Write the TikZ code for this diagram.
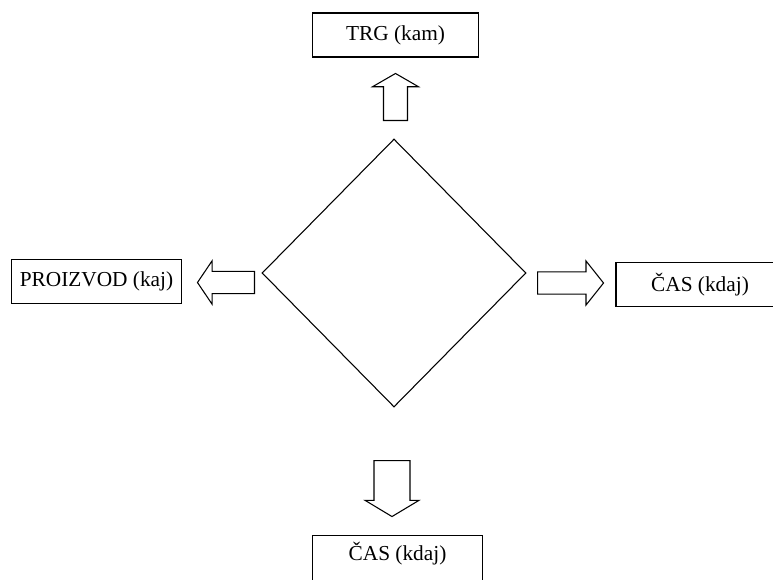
\documentclass[tikz,border=0pt]{standalone}
\usepackage{fontspec}
\setmainfont{Liberation Serif}
\usetikzlibrary{shapes.geometric, shapes.arrows}
\tikzstyle{box} = [rectangle, draw=black, line width=0.8pt, minimum width=124pt, minimum height=33pt, inner sep=2pt, text centered, font=\fontsize{16}{19}\selectfont]
\tikzstyle{core} = [diamond, draw=black, line width=0.8pt, minimum width=198pt, minimum height=201pt, inner sep=0pt]
\tikzstyle{bigarrow} = [single arrow, draw=black, line width=0.8pt, inner xsep=0pt, anchor=tail]

\begin{document}
\begin{tikzpicture}[x=0.75pt, y=-0.75pt]
    \useasboundingbox (0,0) rectangle (773,579);

    \node[core] (mix) at (394,273) {};

    \node[box] (kam) at (395.5,35) {TRG (kam)};
    \node[box, minimum width=127pt] (kaj) at (96.5,281.5) {PROIZVOD (kaj)};
    \node[box, minimum width=126pt] (kdaj) at (700,284.5) {ČAS (kdaj)};
    \node[box, minimum width=127pt, minimum height=38pt, text depth=15pt] (kdajb) at (397.5,561) {ČAS (kdaj)};

    % block arrows
    \node[bigarrow, rotate=90, minimum height=35.25pt, inner ysep=8.6pt, single arrow head extend=8.25pt, single arrow tip angle=120] (toup) at (395.5,121) {};
    \node[bigarrow, rotate=180, minimum height=42.75pt, inner ysep=7.9pt, single arrow head extend=7.9pt, single arrow tip angle=112] (toleft) at (255,282.5) {};
    \node[bigarrow, minimum height=49.5pt, inner ysep=7.9pt, single arrow head extend=8.25pt, single arrow tip angle=103] (toright) at (537,283) {};
    \node[bigarrow, rotate=-90, minimum height=42pt, inner ysep=13.1pt, single arrow head extend=6.75pt, single arrow tip angle=118] (todown) at (392,460) {};
\end{tikzpicture}
\end{document}
